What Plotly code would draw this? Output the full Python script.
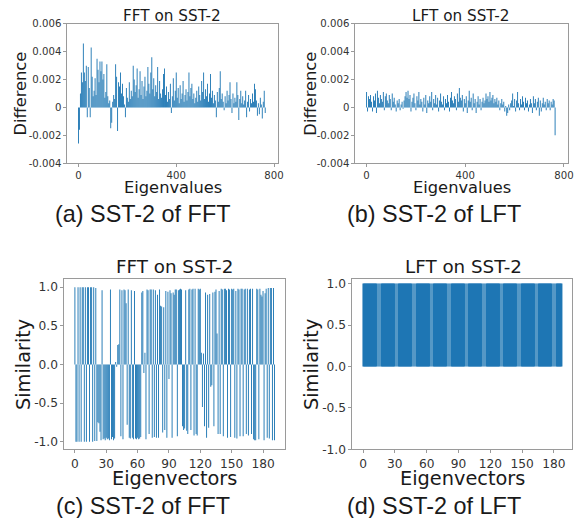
import plotly.graph_objects as go

# target picture is 574x518; the capture shrinks the page by ~0.983, so the
# figure is drawn a little larger and every layout fraction stays the same
TW, TH = 574, 518
S = 0.983
W, H = round(TW / S), round(TH / S)

# ---------------- data ----------------
eig_x = list(range(0, 768, 4))

diff_fft = [
    -0.0026, -0.0016, 0.0010, 0.0025, 0.0018, 0.0046, 0.0025, 0.0019,
    0.0030, -0.0007, 0.0029, 0.0014, -0.0007, 0.0043, 0.0022, 0.0008,
    0.0012, 0.0021, 0.0009, 0.0035, 0.0027, 0.0018, 0.0033, 0.0026,
    0.0033, 0.0020, 0.0024, 0.0007, 0.0011, 0.0031, 0.0008, 0.0003,
    0.0005, -0.0015, -0.0011, 0.0004, 0.0009, 0.0006, 0.0031, 0.0022,
    -0.0017, 0.0018, 0.0015, 0.0025, 0.0010, 0.0017, 0.0008, 0.0002,
    -0.0007, 0.0014, 0.0007, 0.0004, 0.0018, 0.0006, 0.0012, 0.0008,
    0.0030, 0.0020, 0.0011, 0.0016, 0.0028, 0.0007, 0.0013, 0.0026,
    0.0009, 0.0019, 0.0006, 0.0015, 0.0022, 0.0008, 0.0012, 0.0029,
    0.0017, 0.0010, 0.0025, 0.0036, 0.0013, 0.0021, 0.0008, 0.0016,
    0.0011, 0.0029, 0.0006, 0.0019, 0.0010, 0.0007, 0.0013, 0.0024,
    0.0028, 0.0009, 0.0015, 0.0004, 0.0011, 0.0006, 0.0017, -0.0004,
    0.0008, 0.0021, 0.0005, 0.0012, 0.0025, 0.0007, 0.0014, 0.0003,
    0.0016, 0.0006, 0.0010, 0.0019, 0.0004, 0.0009, 0.0013, 0.0005,
    0.0011, 0.0025, 0.0008, 0.0014, 0.0017, 0.0006, 0.0010, 0.0003,
    0.0007, 0.0012, 0.0004, 0.0015, 0.0009, 0.0005, 0.0019, 0.0011,
    0.0025, 0.0006, 0.0013, 0.0008, 0.0017, 0.0004, 0.0010, 0.0024,
    0.0007, 0.0012, 0.0003, 0.0009, 0.0005, -0.0007, 0.0011, 0.0004,
    0.0014, 0.0026, 0.0006, 0.0010, 0.0004, -0.0002, 0.0008, 0.0003,
    0.0012, 0.0005, 0.0009, 0.0018, 0.0006, -0.0004, 0.0010, 0.0003,
    0.0007, 0.0004, 0.0018, 0.0009, -0.0009, 0.0006, 0.0012, 0.0003,
    0.0008, 0.0002, 0.0005, 0.0012, -0.0007, 0.0004, 0.0009, -0.0003,
    0.0006, 0.0003, 0.0010, 0.0004, 0.0017, 0.0013, 0.0005, -0.0006,
    0.0003, -0.0005, 0.0007, 0.0002, -0.0008, 0.0004, 0.0012, -0.0004,
]

diff_lft = [
    0.0011, -0.0003, 0.0008, 0.0006, 0.0009, 0.0004, -0.0003, 0.0008,
    0.0005, 0.0010, -0.0004, 0.0012, 0.0007, 0.0003, 0.0009, 0.0006,
    0.0004, 0.0011, -0.0002, 0.0008, 0.0010, 0.0005, 0.0003, 0.0009,
    0.0006, -0.0002, 0.0010, 0.0004, 0.0007, 0.0002, -0.0003, 0.0005,
    0.0003, 0.0006, -0.0002, 0.0002, 0.0004, -0.0001, 0.0005, 0.0008,
    0.0011, 0.0007, 0.0012, 0.0006, 0.0009, -0.0003, 0.0004, 0.0007,
    0.0010, 0.0003, -0.0002, 0.0008, 0.0005, 0.0011, 0.0002, 0.0006,
    0.0004, -0.0003, 0.0007, 0.0002, 0.0009, -0.0004, 0.0005, 0.0003,
    0.0008, 0.0004, 0.0011, -0.0002, 0.0006, 0.0003, 0.0009, 0.0002,
    0.0007, -0.0003, 0.0005, 0.0010, 0.0004, 0.0002, 0.0008, -0.0002,
    0.0006, 0.0003, 0.0009, 0.0004, -0.0003, 0.0007, 0.0011, 0.0005,
    0.0003, 0.0008, 0.0006, -0.0002, 0.0010, 0.0004, 0.0014, 0.0007,
    0.0005, 0.0009, -0.0003, 0.0006, 0.0003, 0.0008, -0.0004, 0.0005,
    0.0012, 0.0004, 0.0007, -0.0002, 0.0010, 0.0003, 0.0006, -0.0004,
    0.0004, 0.0008, 0.0002, 0.0006, -0.0002, 0.0004, 0.0007, 0.0003,
    0.0005, 0.0010, 0.0006, 0.0008, 0.0004, 0.0011, 0.0005, 0.0007,
    0.0009, 0.0003, 0.0006, 0.0004, 0.0007, 0.0002, 0.0005, -0.0002,
    0.0003, 0.0006, 0.0002, 0.0004, -0.0003, 0.0001, -0.0006, -0.0004,
    0.0002, -0.0002, 0.0003, 0.0005, 0.0010, 0.0001, 0.0006, -0.0003,
    0.0005, 0.0011, 0.0003, -0.0002, 0.0006, 0.0002, 0.0008, 0.0004,
    -0.0002, 0.0007, 0.0003, 0.0005, -0.0003, 0.0002, 0.0006, 0.0003,
    -0.0004, 0.0008, 0.0003, 0.0006, -0.0002, 0.0004, 0.0007, -0.0006,
    0.0005, -0.0003, 0.0003, 0.0007, 0.0002, 0.0004, -0.0002, 0.0006,
    0.0003, 0.0005, -0.0002, 0.0004, 0.0002, 0.0006, 0.0005, -0.0020,
]

vec_fft_idx = list(range(192))
sim_fft = [
    1.0, -1.0, -1.0, 1.0, -1.0, 1.0, -1.0, 1.0, 1.0, -1.0,
    1.0, -1.0, 1.0, 1.0, -1.0, 1.0, 1.0, -1.0, 1.0, -0.99,
    0.99, -0.99, -0.75, -0.76, -0.87, -0.98, 0.96, -0.97, -0.96, -0.98,
    -0.95, -0.97, -0.96, -0.98, 0.97, -0.97, -0.94, -0.98, -0.96, 0.03,
    -0.03, 0.25, 0.26, 0.97, -0.93, 0.96, -0.97, 0.97, 0.96, 0.79,
    -0.78, 0.97, -0.95, -0.96, 0.96, -0.95, -0.97, 0.95, -0.96, -0.97,
    -0.95, -0.97, -0.96, -0.94, 0.93, 0.95, -0.11, 0.15, -0.97, 0.97,
    0.96, -0.90, 0.97, 0.97, -0.95, 0.97, -0.94, 0.96, -0.95, 0.90,
    -0.95, 0.97, 0.76, 0.75, -0.88, 0.74, -0.85, 0.95, -0.95, 0.94,
    -0.19, 0.96, 0.92, -0.95, 0.93, 0.90, 0.97, 0.97, -0.93, 0.96,
    0.97, 0.98, 0.97, -0.80, -0.85, -0.83, 0.96, -0.86, -0.90, 0.97,
    0.98, -0.85, 0.97, 0.98, -0.92, 0.98, -0.90, -0.92, 0.98, 0.97,
    0.98, 0.15, -0.55, 0.14, -0.80, 0.93, -0.95, 0.90, -0.82, 0.91,
    -0.29, -0.27, 0.93, -0.80, 0.94, 0.97, 0.40, -0.90, 0.95, -0.90,
    0.98, 0.97, -0.93, 0.98, 0.98, 0.96, -0.95, 0.98, 0.97, -0.94,
    0.98, 0.97, 0.98, -0.95, 0.95, -0.96, 0.98, 0.97, -0.93, 0.98,
    0.98, -0.93, 0.97, 0.98, -0.90, 0.98, -0.92, 0.97, 0.98, -0.90,
    0.98, -0.97, -0.98, -0.98, 0.98, 0.97, -0.97, 0.98, 0.90, 0.88,
    0.95, -0.98, 0.92, 0.98, -0.95, 0.99, -0.96, 0.99, 0.99, -0.98,
    0.99, -0.98,
]

vec_lft_idx = list(range(188))
sim_lft = [
    1.0, 1.0, 1.0, 1.0, 1.0, 1.0, 1.0, 1.0, 1.0, 1.0, 1.0, 1.0, 1.0, 1.0, 1.0, 1.0, 1.0, 1.0, 1.0, 1.0,
    1.0, 1.0, 1.0, 1.0, 1.0, 1.0, 1.0, 1.0, 1.0, 1.0, 1.0, 1.0, 1.0, 1.0, 1.0, 1.0, 1.0, 1.0, 1.0, 1.0,
    1.0, 1.0, 1.0, 1.0, 1.0, 1.0, 1.0, 1.0, 1.0, 1.0, 1.0, 1.0, 1.0, 1.0, 1.0, 1.0, 1.0, 1.0, 1.0, 1.0,
    1.0, 1.0, 1.0, 1.0, 1.0, 1.0, 1.0, 1.0, 1.0, 1.0, 1.0, 1.0, 1.0, 1.0, 1.0, 1.0, 1.0, 1.0, 1.0, 1.0,
    1.0, 1.0, 1.0, 1.0, 1.0, 1.0, 1.0, 1.0, 1.0, 1.0, 1.0, 1.0, 1.0, 1.0, 1.0, 1.0, 1.0, 1.0, 1.0, 1.0,
    1.0, 1.0, 1.0, 1.0, 1.0, 1.0, 1.0, 1.0, 1.0, 1.0, 1.0, 1.0, 1.0, 1.0, 1.0, 1.0, 1.0, 1.0, 1.0, 1.0,
    1.0, 1.0, 1.0, 1.0, 1.0, 1.0, 1.0, 1.0, 1.0, 1.0, 1.0, 1.0, 1.0, 1.0, 1.0, 1.0, 1.0, 1.0, 1.0, 1.0,
    1.0, 1.0, 1.0, 1.0, 1.0, 1.0, 1.0, 1.0, 1.0, 1.0, 1.0, 1.0, 1.0, 1.0, 1.0, 1.0, 1.0, 1.0, 1.0, 1.0,
    1.0, 1.0, 1.0, 1.0, 1.0, 1.0, 1.0, 1.0, 1.0, 1.0, 1.0, 1.0, 1.0, 1.0, 1.0, 1.0, 1.0, 1.0, 1.0, 1.0,
    1.0, 1.0, 1.0, 1.0, 1.0, 1.0, 1.0, 1.0,
]

diff_ticks = [-0.004, -0.002, 0, 0.002, 0.004, 0.006]
diff_ticktext = ["-0.004", "-0.002", "0", "0.002", "0.004", "0.006"]
eig_ticks = [0, 400, 800]
sim_ticks = [-1.0, -0.5, 0.0, 0.5, 1.0]
sim_ticktext = ["-1.0", "-0.5", "0.0", "0.5", "1.0"]
vec_ticks = [0, 30, 60, 90, 120, 150, 180]

titles = ["FFT on SST-2", "LFT on SST-2", "FFT on SST-2", "LFT on SST-2"]
captions = ["(a) SST-2 of FFT", "(b) SST-2 of LFT", "(c) SST-2 of FFT", "(d) SST-2 of LFT"]

# ---------------- figure ----------------
# slightly-below-1 opacity keeps plotly from snapping thin bars to whole pixels
BLUE_T = "rgba(31,119,180,0.995)"
BLUE = "#1f77b4"
MPL = "DejaVu Sans"
CAP = "Liberation Sans"
LINE = "#9a9a9a"

def fs(v):
    return round(v / S, 2)

def px(x):
    return x / TW

def py(y):
    return 1 - y / TH

fig = go.Figure()
fig.add_trace(go.Bar(x=eig_x, y=diff_fft, width=3.8, marker=dict(color=BLUE_T, line=dict(width=0)),
                     xaxis="x", yaxis="y"))
fig.add_trace(go.Bar(x=eig_x, y=diff_lft, width=3.8, marker=dict(color=BLUE_T, line=dict(width=0)),
                     xaxis="x2", yaxis="y2"))
fig.add_trace(go.Bar(x=vec_fft_idx, y=sim_fft, width=0.9, marker=dict(color=BLUE_T, line=dict(width=0)),
                     xaxis="x3", yaxis="y3"))
fig.add_trace(go.Bar(x=vec_lft_idx, y=sim_lft, width=0.8, marker=dict(color=BLUE, line=dict(width=0)),
                     xaxis="x4", yaxis="y4"))

def ax(domain, rng, tickvals, ticktext, anchor, size):
    d = dict(domain=domain, range=rng, tickvals=tickvals, showgrid=False, zeroline=False,
             showline=True, mirror=True, linecolor=LINE, linewidth=1,
             ticks="outside", ticklen=3, tickcolor=LINE, tickwidth=1,
             tickfont=dict(family=MPL, size=fs(size), color="#333333"), anchor=anchor, fixedrange=True)
    if ticktext is not None:
        d["ticktext"] = ticktext
    return d

# panel geometry in target pixels (left, right, top, bottom)
A = (67, 276, 19, 159)
B = (353, 564, 19, 159)
C = (64, 283, 276, 447)
D = (350, 568, 276, 447)

def xd(p):
    return [px(p[0]), px(p[1])]

def yd(p):
    return [py(p[3]), py(p[2])]

fig.update_layout(
    width=W, height=H, margin=dict(l=0, r=0, t=0, b=0),
    paper_bgcolor="white", plot_bgcolor="white", showlegend=False, bargap=0.2,
    xaxis=ax(xd(A), [-45, 816], eig_ticks, None, "y", 10),
    yaxis=ax(yd(A), [-0.004, 0.006], diff_ticks, diff_ticktext, "x", 10),
    xaxis2=ax(xd(B), [-45, 816], eig_ticks, None, "y2", 10),
    yaxis2=ax(yd(B), [-0.004, 0.006], diff_ticks, diff_ticktext, "x2", 10),
    xaxis3=ax(xd(C), [-10, 201], vec_ticks, None, "y3", 12),
    yaxis3=ax(yd(C), [-1.1, 1.1], sim_ticks, sim_ticktext, "x3", 12),
    xaxis4=ax(xd(D), [-10, 197], vec_ticks, None, "y4", 12),
    yaxis4=ax(yd(D), [-1.0, 1.05], sim_ticks, sim_ticktext, "x4", 12),
)

ann = []
def text(t, x, y, size, family, angle=0):
    ann.append(dict(text=t, x=px(x), y=py(y), xref="paper", yref="paper", showarrow=False,
                    xanchor="center", yanchor="middle", textangle=angle,
                    font=dict(family=family, size=fs(size), color="#1a1a1a")))

# titles
text(titles[0], 171, 11, 15, MPL)
text(titles[1], 458, 11, 15, MPL)
text(titles[2], 173, 263, 18, MPL)
text(titles[3], 460, 263, 18, MPL)
# x labels
text("Eigenvalues", 171.5, 184, 16, MPL)
text("Eigenvalues", 458.5, 184, 16, MPL)
text("Eigenvectors", 173.5, 476, 19, MPL)
text("Eigenvectors", 459, 476, 19, MPL)
# y labels
text("Difference", 20, 89, 16, MPL, -90)
text("Difference", 308, 89, 16, MPL, -90)
text("Similarity", 24, 362, 19, MPL, -90)
text("Similarity", 310, 362, 19, MPL, -90)
# captions
text(captions[0], 142, 210, 23, CAP)
text(captions[1], 431, 210, 23, CAP)
text(captions[2], 142, 503.5, 23, CAP)
text(captions[3], 431, 503.5, 23, CAP)

fig.update_layout(annotations=ann)
fig.write_html("out.html", config={"displayModeBar": False},
               post_script="document.body.style.margin='0px'; document.body.style.overflow='hidden';")
